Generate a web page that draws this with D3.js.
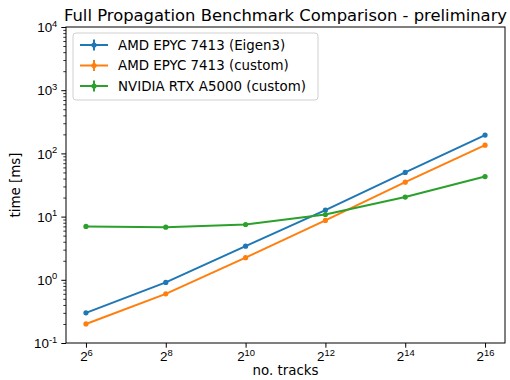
<!DOCTYPE html>
<html>
<head>
<meta charset="utf-8">
<script src="https://cdn.jsdelivr.net/npm/d3@7"></script>
<style>
  body { margin: 0; background: #fff; }
  svg { font-family: "DejaVu Sans", sans-serif; }
</style>
</head>
<body>
<div id="chart"></div>
<script>
// no. tracks (powers of two)
const tracks = [64, 256, 1024, 4096, 16384, 65536];
const seriesNames = ["AMD EPYC 7413 (Eigen3)", "AMD EPYC 7413 (custom)", "NVIDIA RTX A5000 (custom)"];
const eigen3Ms = [0.30, 0.91, 3.4, 12.7, 50, 195];
const customMs = [0.20, 0.60, 2.24, 8.7, 35, 135];
const gpuMs = [7.0, 6.8, 7.5, 10.8, 20.4, 43];
const xTickExp = [6, 8, 10, 12, 14, 16];
const yTickExp = [-1, 0, 1, 2, 3, 4];
const colors = ["#1f77b4", "#ff7f0e", "#2ca02c"];

const series = [eigen3Ms, customMs, gpuMs].map((vals, i) => ({
  name: seriesNames[i],
  color: colors[i],
  points: tracks.map((t, j) => ({ x: t, y: vals[j] }))
}));

const W = 510, H = 380;
const margin = { top: 27, right: 5, bottom: 37, left: 66 };
const width = W - margin.left - margin.right;
const height = H - margin.top - margin.bottom;

const svg = d3.select("#chart").append("svg")
  .attr("width", W)
  .attr("height", H);

const g = svg.append("g")
  .attr("transform", `translate(${margin.left},${margin.top})`);

const x = d3.scaleLog().base(2)
  .domain([Math.pow(2, 5.5), Math.pow(2, 16.5)])
  .range([0, width]);
const y = d3.scaleLog()
  .domain([0.1, 1e4])
  .range([height, 0]);

const fs = 13.4;

// superscript label helper
function powLabel(sel, base) {
  sel.each(function(d) {
    const t = d3.select(this);
    t.text(null);
    t.append("tspan").text(base);
    t.append("tspan")
      .attr("font-size", fs * 0.7)
      .attr("dy", -fs * 0.42)
      .text(d);
  });
}

// x axis
const xAxis = g.append("g")
  .attr("transform", `translate(0,${height})`)
  .call(d3.axisBottom(x)
    .tickValues(xTickExp.map(e => Math.pow(2, e)))
    .tickSize(4.7)
    .tickPadding(4));
xAxis.select(".domain").remove();
xAxis.selectAll(".tick line").attr("stroke", "#000").attr("stroke-width", 1);
xAxis.selectAll(".tick text")
  .data(xTickExp)
  .attr("font-size", fs)
  .attr("fill", "#000")
  .attr("dy", "0.72em")
  .call(powLabel, "2");

// y axis minor ticks
const minor = [];
yTickExp.slice(0, -1).forEach(e => {
  for (let k = 2; k <= 9; k++) minor.push(k * Math.pow(10, e));
});
const yMinor = g.append("g")
  .call(d3.axisLeft(y).tickValues(minor).tickSize(2.7).tickFormat(""));
yMinor.select(".domain").remove();
yMinor.selectAll(".tick line").attr("stroke", "#000").attr("stroke-width", 0.8);

const yAxis = g.append("g")
  .call(d3.axisLeft(y)
    .tickValues(yTickExp.map(e => Math.pow(10, e)))
    .tickSize(4.7)
    .tickPadding(4));
yAxis.select(".domain").remove();
yAxis.selectAll(".tick line").attr("stroke", "#000").attr("stroke-width", 1);
yAxis.selectAll(".tick text")
  .data(yTickExp)
  .attr("font-size", fs)
  .attr("fill", "#000")
  .attr("dy", "0.35em")
  .call(powLabel, "10");

// frame
g.append("rect")
  .attr("width", width)
  .attr("height", height)
  .attr("fill", "none")
  .attr("stroke", "#000")
  .attr("stroke-width", 1);

// lines
const line = d3.line()
  .x(d => x(d.x))
  .y(d => y(d.y));

const sg = g.selectAll(".series")
  .data(series)
  .enter().append("g")
  .attr("class", "series");

sg.append("path")
  .attr("d", d => line(d.points))
  .attr("fill", "none")
  .attr("stroke", d => d.color)
  .attr("stroke-width", 2);

sg.selectAll("circle")
  .data(d => d.points.map(p => ({ ...p, color: d.color })))
  .enter().append("circle")
  .attr("cx", d => x(d.x))
  .attr("cy", d => y(d.y))
  .attr("r", 2.6)
  .attr("fill", d => d.color);

// legend
const leg = g.append("g").attr("transform", "translate(7,6)");
leg.append("rect")
  .attr("width", 245)
  .attr("height", 67)
  .attr("rx", 3)
  .attr("fill", "#fff")
  .attr("fill-opacity", 0.8)
  .attr("stroke", "#d0d0d0")
  .attr("stroke-width", 1);

const items = leg.selectAll(".item")
  .data(series)
  .enter().append("g")
  .attr("transform", (d, i) => `translate(0,${12 + i * 20.5})`);

items.append("line")
  .attr("x1", 7).attr("x2", 35)
  .attr("stroke", d => d.color)
  .attr("stroke-width", 2);
items.append("line")
  .attr("x1", 21).attr("x2", 21)
  .attr("y1", -5.5).attr("y2", 5.5)
  .attr("stroke", d => d.color)
  .attr("stroke-width", 2);
items.append("circle")
  .attr("cx", 21)
  .attr("r", 2.6)
  .attr("fill", d => d.color);
items.append("text")
  .attr("x", 45)
  .attr("dy", "0.36em")
  .attr("font-size", fs)
  .attr("fill", "#000")
  .text(d => d.name);

// titles
svg.append("text")
  .attr("x", margin.left + width / 2)
  .attr("y", 20.5)
  .attr("text-anchor", "middle")
  .attr("font-size", 16.4)
  .text("Full Propagation Benchmark Comparison - preliminary");

svg.append("text")
  .attr("x", margin.left + width / 2)
  .attr("y", 375)
  .attr("text-anchor", "middle")
  .attr("font-size", fs)
  .text("no. tracks");

svg.append("text")
  .attr("transform", `translate(20,${margin.top + height / 2}) rotate(-90)`)
  .attr("text-anchor", "middle")
  .attr("font-size", fs)
  .text("time [ms]");
</script>
</body>
</html>
